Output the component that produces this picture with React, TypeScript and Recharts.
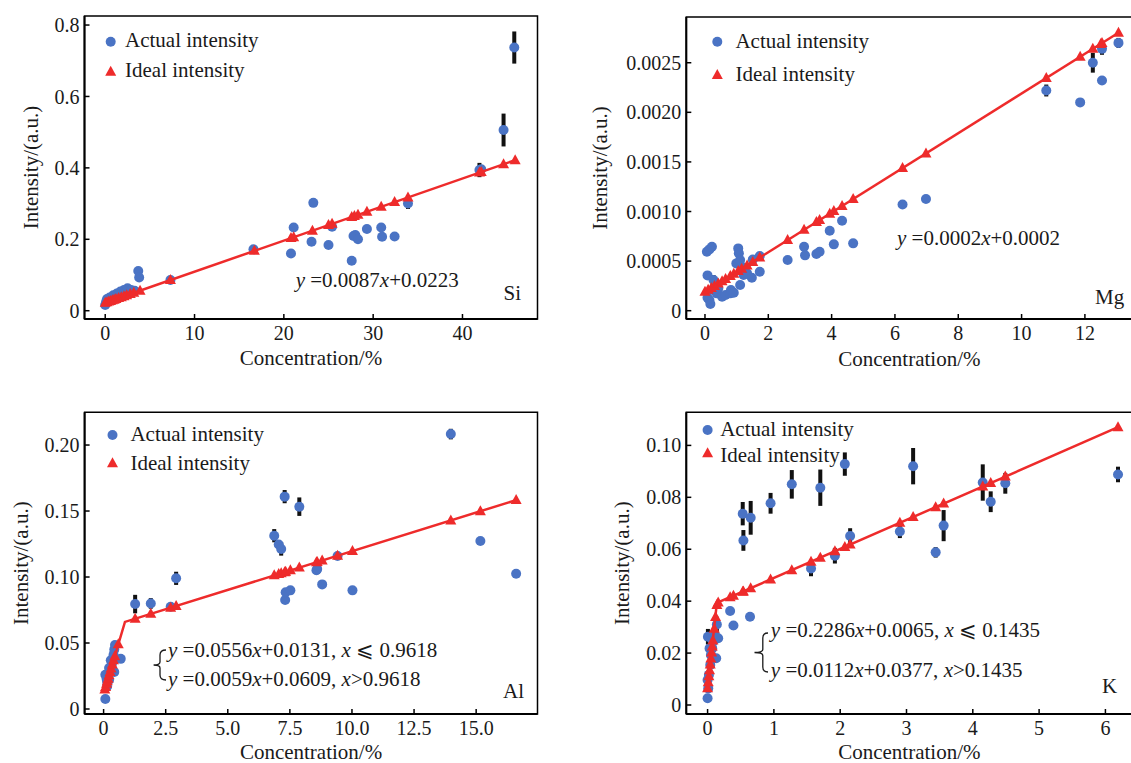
import React from 'react';
import { ScatterChart, Scatter, XAxis, YAxis, ErrorBar, ReferenceArea, Legend } from 'recharts';

const BLUE = '#4a73c4';
const RED = '#ee2b2b';
const FONT = "'Liberation Serif', 'Times New Roman', Times, 'DejaVu Serif', serif";
const INK = '#1a1a1a';

// ---------- Si ----------
const siActualX = [0.0, 0.1, 0.2, 0.3, 0.5, 0.7, 0.9, 1.1, 1.3, 1.5, 1.7, 1.9, 2.1, 2.3, 2.5, 2.9, 3.3, 3.7, 3.8, 7.3, 16.6, 20.8, 21.1, 23.1, 23.3, 25.0, 25.4, 27.6, 27.8, 28.0, 28.3, 29.3, 30.9, 31.0, 32.4, 33.9, 41.9, 42.1, 44.6, 45.8];
const siActualY = [0.016, 0.025, 0.033, 0.028, 0.037, 0.034, 0.043, 0.040, 0.048, 0.045, 0.054, 0.050, 0.058, 0.055, 0.063, 0.058, 0.056, 0.111, 0.093, 0.086, 0.172, 0.160, 0.233, 0.193, 0.302, 0.184, 0.235, 0.140, 0.209, 0.212, 0.200, 0.229, 0.233, 0.207, 0.208, 0.300, 0.394, 0.396, 0.506, 0.737];
const siActualErr = [0, 0, 0, 0, 0, 0, 0, 0, 0, 0, 0, 0, 0, 0, 0, 0, 0, 0, 0, 0, 0, 0, 0, 0, 0.01, 0, 0, 0, 0, 0, 0, 0, 0, 0, 0, 0.015, 0.02, 0, 0.046, 0.045];
const siIdealX = [0.0, 0.2, 0.4, 0.6, 0.8, 1.0, 1.2, 1.5, 1.8, 2.1, 2.4, 2.8, 3.2, 3.9, 7.3, 16.7, 20.8, 21.1, 23.2, 25.0, 25.4, 27.6, 27.9, 28.3, 29.3, 30.9, 32.4, 33.9, 41.9, 42.1, 44.6, 45.9];
const siIdealY = [0.0223, 0.0240, 0.0258, 0.0275, 0.0293, 0.0310, 0.0327, 0.0354, 0.0380, 0.0406, 0.0432, 0.0467, 0.0501, 0.0562, 0.0858, 0.1676, 0.2033, 0.2059, 0.2241, 0.2398, 0.2433, 0.2624, 0.2650, 0.2685, 0.2772, 0.2911, 0.3042, 0.3172, 0.3868, 0.3886, 0.4103, 0.4216];
const siFitX = [0.0, 45.9];
const siFitY = [0.0223, 0.4216];
const siXTicks = [0, 10, 20, 30, 40];
const siYTicks = [0, 0.2, 0.4, 0.6, 0.8];

// ---------- Mg ----------
const mgActualX = [0.06, 0.14, 0.22, 0.08, 0.08, 0.14, 0.17, 0.25, 0.27, 0.37, 0.42, 0.54, 0.65, 0.8, 0.82, 0.91, 0.99, 1.05, 1.07, 1.11, 1.11, 1.16, 1.22, 1.33, 1.48, 1.51, 1.73, 1.73, 2.61, 3.13, 3.16, 3.52, 3.62, 3.94, 4.07, 4.33, 4.68, 6.24, 6.98, 10.78, 11.85, 12.25, 12.54, 12.54, 13.06];
const mgActualY = [0.000595, 0.000618, 0.000645, 0.000356, 0.000131, 0.000108, 0.000067, 0.000208, 0.000309, 0.000175, 0.000225, 0.000141, 0.000158, 0.000175, 0.000208, 0.000181, 0.000477, 0.000628, 0.000578, 0.00051, 0.000259, 0.000443, 0.00036, 0.000376, 0.000333, 0.000517, 0.000551, 0.000393, 0.000511, 0.000645, 0.000558, 0.000571, 0.000595, 0.000806, 0.000669, 0.000907, 0.000679, 0.00107, 0.001126, 0.00222, 0.0021, 0.0025, 0.00264, 0.00232, 0.0027];
const mgActualErr = [0.00002, 0, 0.00003, 0, 0, 0, 0, 0, 0.00005, 0, 0, 0, 0, 0, 0, 0, 0, 0.00004, 0, 0, 0, 0, 0, 0, 0, 0, 0, 0, 0, 0, 0, 0, 0.00003, 0, 0, 0, 0, 0.00003, 0, 0.00006, 0.00003, 0.0001, 0.00006, 0.00004, 0.00005];
const mgIdealX = [0.0, 0.1, 0.2, 0.3, 0.42, 0.54, 0.65, 0.8, 0.91, 1.05, 1.16, 1.33, 1.51, 1.73, 2.61, 3.13, 3.52, 3.62, 3.94, 4.07, 4.33, 4.68, 6.24, 6.98, 10.78, 11.85, 12.25, 12.5, 12.54, 13.06];
const mgIdealY = [0.00019, 0.00021, 0.00023, 0.00025, 0.000274, 0.000298, 0.00032, 0.00035, 0.000372, 0.0004, 0.000422, 0.000456, 0.000492, 0.000536, 0.000712, 0.000816, 0.000894, 0.000914, 0.000978, 0.001004, 0.001056, 0.001126, 0.001438, 0.001586, 0.002346, 0.00256, 0.00264, 0.00269, 0.002698, 0.002802];
const mgFitX = [0.0, 13.06];
const mgFitY = [0.00019, 0.002802];
const mgXTicks = [0, 2, 4, 6, 8, 10, 12];
const mgYTicks = [0, 0.0005, 0.001, 0.0015, 0.002, 0.0025];

// ---------- Al ----------
const alActualX = [0.07, 0.07, 0.12, 0.14, 0.14, 0.22, 0.22, 0.29, 0.32, 0.37, 0.40, 0.43, 0.43, 0.46, 0.69, 1.27, 1.90, 2.70, 2.92, 6.87, 7.05, 7.15, 7.29, 7.31, 7.33, 7.52, 7.88, 8.57, 8.6, 8.8, 9.42, 10.02, 13.98, 15.17, 16.61];
const alActualY = [0.0076, 0.026, 0.023, 0.0207, 0.017, 0.031, 0.022, 0.037, 0.033, 0.036, 0.041, 0.045, 0.028, 0.0485, 0.038, 0.0795, 0.080, 0.0775, 0.099, 0.1313, 0.1247, 0.1212, 0.1609, 0.0826, 0.0884, 0.0899, 0.1533, 0.1051, 0.106, 0.0944, 0.1159, 0.0899, 0.2083, 0.1273, 0.1025];
const alActualErr = [0, 0, 0, 0, 0, 0, 0, 0, 0, 0, 0, 0, 0, 0.003, 0, 0.007, 0.004, 0, 0.005, 0.005, 0.003, 0.005, 0.005, 0.003, 0, 0, 0.007, 0.003, 0, 0, 0, 0.002, 0.004, 0.003, 0.003];
const alIdealX = [0.05, 0.08, 0.12, 0.15, 0.18, 0.22, 0.26, 0.3, 0.35, 0.4, 0.45, 0.59, 1.27, 1.90, 2.70, 2.92, 6.87, 7.05, 7.15, 7.29, 7.33, 7.52, 7.88, 8.57, 8.6, 8.8, 9.42, 10.02, 13.98, 15.17, 16.61];
const alIdealY = [0.0147, 0.0166, 0.0191, 0.021, 0.0229, 0.0255, 0.028, 0.0306, 0.0337, 0.0369, 0.04, 0.049, 0.0684, 0.0721, 0.0768, 0.0781, 0.1013, 0.1023, 0.1029, 0.1037, 0.104, 0.1051, 0.1072, 0.1112, 0.1114, 0.1126, 0.1162, 0.1197, 0.1429, 0.1499, 0.1583];
const alFitX = [0.05, 0.86, 16.61];
const alFitY = [0.0147, 0.066, 0.1583];
const alXTicks = [0, 2.5, 5, 7.5, 10, 12.5, 15];
const alYTicks = [0, 0.05, 0.1, 0.15, 0.2];

// ---------- K ----------
const kActualX = [0.0, 0.01, 0.0, 0.02, 0.04, 0.05, 0.03, 0.07, 0.005, 0.08, 0.11, 0.13, 0.14, 0.16, 0.34, 0.39, 0.53, 0.54, 0.64, 0.65, 0.95, 1.27, 1.56, 1.70, 1.92, 2.07, 2.15, 2.90, 3.10, 3.44, 3.56, 4.15, 4.27, 4.49, 6.19];
const kActualY = [0.0026, 0.0064, 0.0096, 0.0116, 0.0154, 0.0193, 0.0218, 0.0218, 0.0263, 0.0244, 0.027, 0.018, 0.031, 0.0257, 0.0362, 0.0306, 0.0737, 0.0634, 0.034, 0.0721, 0.0777, 0.085, 0.0526, 0.0837, 0.0575, 0.0928, 0.0651, 0.0668, 0.092, 0.0588, 0.0691, 0.0857, 0.0783, 0.0854, 0.0888];
const kActualErr = [0, 0, 0, 0, 0, 0, 0, 0, 0.003, 0, 0, 0, 0.003, 0, 0.0015, 0.0015, 0.0045, 0.004, 0, 0.0065, 0.004, 0.0055, 0.003, 0.007, 0.003, 0.0045, 0.003, 0.0025, 0.007, 0.002, 0.006, 0.007, 0.004, 0.004, 0.003];
const kIdealX = [0.0, 0.01, 0.02, 0.03, 0.04, 0.05, 0.06, 0.07, 0.08, 0.1, 0.12, 0.14, 0.16, 0.34, 0.39, 0.53, 0.54, 0.65, 0.95, 1.27, 1.56, 1.70, 1.92, 2.07, 2.15, 2.90, 3.10, 3.44, 3.56, 4.15, 4.27, 4.49, 6.19];
const kIdealY = [0.0065, 0.0088, 0.0111, 0.0134, 0.0156, 0.0179, 0.0202, 0.0225, 0.0248, 0.0294, 0.0339, 0.0385, 0.0395, 0.0415, 0.0421, 0.0436, 0.0437, 0.045, 0.0483, 0.0519, 0.0552, 0.0567, 0.0592, 0.0609, 0.0618, 0.0702, 0.0724, 0.0762, 0.0776, 0.0842, 0.0855, 0.088, 0.107];
const kFitX = [0.0, 0.14, 6.19];
const kFitY = [0.0065, 0.0393, 0.107];
const kXTicks = [0, 1, 2, 3, 4, 5, 6];
const kYTicks = [0, 0.02, 0.04, 0.06, 0.08, 0.1];

const zip = (xs: number[], ys: number[], es?: number[]) =>
  xs.map((x, i) => ({ x, y: ys[i], e: es ? es[i] : 0 }));

const CircleShape = (p: any) => <circle cx={p.cx} cy={p.cy} r={5} fill={BLUE} />;
const TriShape = (p: any) => (
  <path d={`M${p.cx},${p.cy - 6}L${p.cx + 5.5},${p.cy + 4}L${p.cx - 5.5},${p.cy + 4}Z`} fill={RED} />
);
const NoShape = () => <g />;

const textStyle = { fontFamily: FONT };

const LegendBox = ({ payload, cfg, width }: any) => {
  const items = (payload || []).filter((it: any) => it.type !== 'none');
  return (
    <svg width={width} height={110} style={{ display: 'block', overflow: 'visible' }}>
      {items.map((it: any, i: number) => {
        const cy = cfg.cy[i];
        const cx = cfg.cx;
        return (
          <g key={i}>
            {it.type === 'triangle' ? (
              <path d={`M${cx},${cy - 6}L${cx + 5.5},${cy + 4}L${cx - 5.5},${cy + 4}Z`} fill={RED} />
            ) : (
              <circle cx={cx} cy={cy} r={5} fill={BLUE} />
            )}
            <text x={cfg.tx} y={cfg.base[i]} fontFamily={FONT} style={textStyle} fontSize={21} fill={INK}>
              {it.value}
            </text>
          </g>
        );
      })}
    </svg>
  );
};

const Panel = (props: any) => {
  const {
    left, top, width, height, margin, yAxisWidth, xAxisHeight, xDomain, yDomain,
    xTicks, yTicks, xFmt, yFmt, actual, ideal, fit, yLabelOffset, xLabelOffset, legend,
  } = props;
  return (
    <div style={{ position: 'absolute', left, top, width, height, fontFamily: FONT }}>
      <ScatterChart width={width} height={height} margin={margin} style={{ fontFamily: FONT }}>
        <ReferenceArea
          x1={xDomain[0]} x2={xDomain[1]} y1={yDomain[0]} y2={yDomain[1]}
          fill="none" fillOpacity={0} stroke="#000" strokeWidth={1.5} ifOverflow="visible"
        />
        <XAxis
          type="number" dataKey="x" domain={xDomain} ticks={xTicks} tickFormatter={xFmt}
          interval={0} height={xAxisHeight} allowDataOverflow tickSize={-5} tickMargin={12}
          axisLine={{ stroke: '#000', strokeWidth: 2 }} tickLine={{ stroke: '#000', strokeWidth: 1.5 }}
          tick={{ fill: INK, fontSize: 20, fontFamily: FONT, style: textStyle }}
          label={{ value: 'Concentration/%', position: 'insideBottom', offset: xLabelOffset, fill: INK, fontSize: 21, fontFamily: FONT, style: textStyle }}
        />
        <YAxis
          type="number" dataKey="y" domain={yDomain} ticks={yTicks} tickFormatter={yFmt}
          interval={0} width={yAxisWidth} allowDataOverflow tickSize={-5} tickMargin={10}
          axisLine={{ stroke: '#000', strokeWidth: 2 }} tickLine={{ stroke: '#000', strokeWidth: 1.5 }}
          tick={{ fill: INK, fontSize: 20, fontFamily: FONT, style: textStyle }}
          label={{ value: 'Intensity/(a.u.)', angle: -90, position: 'insideLeft', offset: yLabelOffset, fill: INK, fontSize: 21, fontFamily: FONT, style: { textAnchor: 'middle', fontFamily: FONT } }}
        />
        <Legend
          layout="vertical" align="center" verticalAlign="middle"
          wrapperStyle={{ position: 'absolute', left: 0, top: 0, width, height: 110 }}
          content={(p: any) => <LegendBox payload={p.payload} cfg={legend} width={width} />}
        />
        <Scatter name="Actual intensity" data={actual} shape={CircleShape} legendType="circle" isAnimationActive={false}>
          <ErrorBar dataKey="e" direction="y" width={0} stroke="#111" strokeWidth={4} isAnimationActive={false} />
        </Scatter>
        <Scatter name="fit" data={fit} shape={NoShape} line={{ stroke: RED, strokeWidth: 2.5 }} legendType="none" isAnimationActive={false} />
        <Scatter name="Ideal intensity" data={ideal} shape={TriShape} legendType="triangle" isAnimationActive={false} />
      </ScatterChart>
    </div>
  );
};

const fmt0 = (d: number) => (v: number) => (v === 0 ? '0' : v.toFixed(d));
const fmtInt = (v: number) => String(v);

const brace = (xv: number, tip: number, top: number, bottom: number, hook: number) => {
  const mid = (top + bottom) / 2;
  return `M${hook},${top} Q${xv},${top} ${xv},${top + 5} L${xv},${mid - 3} Q${xv},${mid} ${tip},${mid} Q${xv},${mid} ${xv},${mid + 3} L${xv},${bottom - 5} Q${xv},${bottom} ${hook},${bottom}`;
};

const T = (p: any) => <text fontFamily={FONT} style={textStyle} fontSize={21} fill={INK} {...p} />;
const I = (p: any) => <tspan fontStyle="italic" {...p} />;

export default function App() {
  return (
    <div style={{ position: 'relative', width: 1131, height: 763, overflow: 'hidden', background: '#fff', fontFamily: FONT }}>
      <style>{'body{margin:0;overflow:hidden;background:#fff}'}</style>
      <Panel
        left={0} top={0} width={565} height={380}
        margin={{ top: 16, right: 27.5, bottom: 0, left: 0 }} yAxisWidth={84.5} xAxisHeight={61}
        xDomain={[-2.32, 48.4]} yDomain={[-0.0232, 0.8253]}
        xTicks={siXTicks} yTicks={siYTicks} xFmt={fmtInt} yFmt={fmt0(1)}
        actual={zip(siActualX, siActualY, siActualErr)} ideal={zip(siIdealX, siIdealY)} fit={zip(siFitX, siFitY)}
        yLabelOffset={31} xLabelOffset={15}
        legend={{ cx: 110.7, cy: [41.7, 71.7], tx: 125, base: [46.7, 77.3] }}
      />
      <Panel
        left={565} top={0} width={570} height={380}
        margin={{ top: 17, right: 2.6, bottom: 0, left: 0 }} yAxisWidth={121.3} xAxisHeight={61}
        xDomain={[-0.59, 13.5]} yDomain={[-0.0000837, 0.002961]}
        xTicks={mgXTicks} yTicks={mgYTicks} xFmt={fmtInt} yFmt={fmt0(4)}
        actual={zip(mgActualX, mgActualY, mgActualErr)} ideal={zip(mgIdealX, mgIdealY)} fit={zip(mgFitX, mgFitY)}
        yLabelOffset={35} xLabelOffset={14}
        legend={{ cx: 152.3, cy: [41.7, 75], tx: 170.4, base: [47.7, 81] }}
      />
      <Panel
        left={0} top={385} width={565} height={378}
        margin={{ top: 27.3, right: 27.5, bottom: 0, left: 0 }} yAxisWidth={84.6} xAxisHeight={49}
        xDomain={[-0.765, 17.47]} yDomain={[-0.00379, 0.2248]}
        xTicks={alXTicks} yTicks={alYTicks} xFmt={fmt0(1)} yFmt={fmt0(2)}
        actual={zip(alActualX, alActualY, alActualErr)} ideal={zip(alIdealX, alIdealY)} fit={zip(alFitX, alFitY)}
        yLabelOffset={20.5} xLabelOffset={4}
        legend={{ cx: 112.5, cy: [50, 78.3], tx: 130.4, base: [56, 85] }}
      />
      <Panel
        left={565} top={385} width={570} height={378}
        margin={{ top: 27.3, right: 2.6, bottom: 0, left: 0 }} yAxisWidth={121.3} xAxisHeight={49}
        xDomain={[-0.321, 6.407]} yDomain={[-0.003467, 0.11275]}
        xTicks={kXTicks} yTicks={kYTicks} xFmt={fmtInt} yFmt={fmt0(2)}
        actual={zip(kActualX, kActualY, kActualErr)} ideal={zip(kIdealX, kIdealY)} fit={zip(kFitX, kFitY)}
        yLabelOffset={57} xLabelOffset={4}
        legend={{ cx: 142.6, cy: [45, 68.3], tx: 155.2, base: [50.7, 76.7] }}
      />
      <svg width={1131} height={763} style={{ position: 'absolute', left: 0, top: 0, pointerEvents: 'none' }}>
        <T x={295.7} y={287}><I>y</I> =0.0087<I>x</I>+0.0223</T>
        <T x={503.6} y={300}>Si</T>
        <T x={897} y={245}><I>y</I> =0.0002<I>x</I>+0.0002</T>
        <T x={1095} y={304}>Mg</T>
        <path d={brace(160, 153.6, 650, 680, 166)} fill="none" stroke={INK} strokeWidth={1.3} />
        <T x={168} y={657}><I>y</I> =0.0556<I>x</I>+0.0131, <I>x</I> ⩽ 0.9618</T>
        <T x={168} y={686}><I>y</I> =0.0059<I>x</I>+0.0609, <I>x</I>&gt;0.9618</T>
        <T x={503} y={698}>Al</T>
        <path d={brace(762.8, 754.5, 633, 672, 768)} fill="none" stroke={INK} strokeWidth={1.3} />
        <T x={770.8} y={637}><I>y</I> =0.2286<I>x</I>+0.0065, <I>x</I> ⩽ 0.1435</T>
        <T x={770.8} y={677}><I>y</I> =0.0112<I>x</I>+0.0377, <I>x</I>&gt;0.1435</T>
        <T x={1102} y={693}>K</T>
      </svg>
    </div>
  );
}
